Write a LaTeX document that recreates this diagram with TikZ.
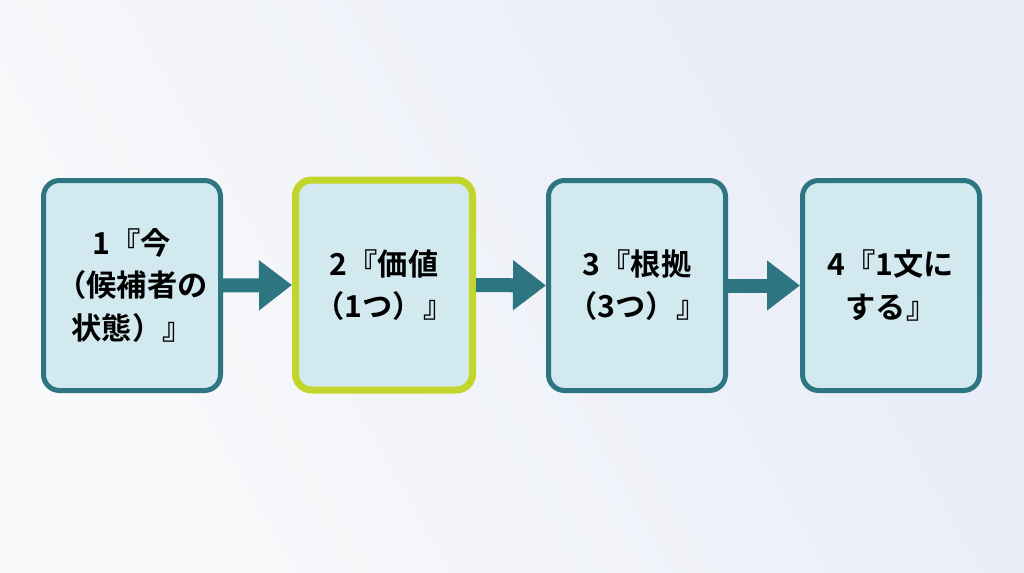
\documentclass[tikz,border=0pt]{standalone}
\usepackage{fontspec}
\usepackage{xcolor}
\usetikzlibrary{arrows.meta}
\newfontfamily\jpfont{Noto Sans CJK JP}[BoldFont={Noto Sans CJK JP Bold}]
\definecolor{tealline}{HTML}{2E7582}
\definecolor{boxfill}{HTML}{D2E9EF}
\definecolor{limeline}{HTML}{C3D42B}
\definecolor{bgA}{HTML}{F8F9FA}
\definecolor{bgB}{HTML}{E8ECF7}
\begin{document}
\begin{tikzpicture}[line cap=round,line join=round,x=0.025cm,y=-0.025cm,
	stepbox/.style={draw=tealline,fill=boxfill,line width=5*0.025cm,rounded corners=16*0.025cm,
		minimum width=177*0.025cm,minimum height=210*0.025cm,align=center,
		font=\jpfont\bfseries\fontsize{21.5}{30}\selectfont,text=black},
	flow/.style={draw=tealline,line width=14*0.025cm,line cap=butt,
		-{Triangle[length=33*0.025cm,width=48*0.025cm]}}]
			\useasboundingbox (0,0) rectangle (1024,572);
			\shade [left color=bgA,right color=bgB,shading angle=120] (0,0) rectangle (1024,572);
			\node[stepbox] (s1) at (132,285.5) {1『今\\（候補者の\\状態）』};
			\node[stepbox,draw=limeline,line width=7*0.025cm] (s2) at (384,285) {2『価値\\（1つ）』};
			\node[stepbox] (s3) at (637,285.5) {3『根拠\\（3つ）』};
			\node[stepbox] (s4) at (891,285.5) {4『1文に\\する』};
			\draw [flow] (s1.east) -- (s2.west);
			\draw [flow] (s2.east) -- (s3.west);
			\draw [flow] (s3.east) -- (s4.west);
\end{tikzpicture}
\end{document}
